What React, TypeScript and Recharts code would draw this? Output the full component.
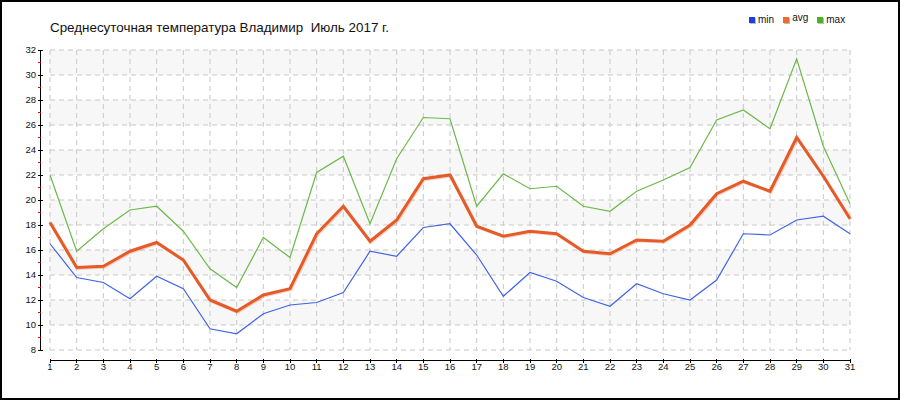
import React from 'react';
import { LineChart, Line, XAxis, YAxis, CartesianGrid } from 'recharts';

const days = [1, 2, 3, 4, 5, 6, 7, 8, 9, 10, 11, 12, 13, 14, 15, 16, 17, 18, 19, 20, 21, 22, 23, 24, 25, 26, 27, 28, 29, 30, 31];
const minTemps = [16.5, 13.8, 13.4, 12.1, 13.9, 12.9, 9.7, 9.3, 10.9, 11.6, 11.8, 12.6, 15.9, 15.5, 17.8, 18.1, 15.6, 12.3, 14.2, 13.5, 12.2, 11.5, 13.3, 12.5, 12.0, 13.6, 17.3, 17.2, 18.4, 18.7, 17.3];
const avgTemps = [18.2, 14.6, 14.7, 15.9, 16.6, 15.2, 12.0, 11.1, 12.4, 12.9, 17.3, 19.5, 16.7, 18.4, 21.7, 22.0, 17.9, 17.1, 17.5, 17.3, 15.9, 15.7, 16.8, 16.7, 18.0, 20.5, 21.5, 20.7, 25.0, 21.9, 18.5];
const maxTemps = [22.0, 15.9, 17.7, 19.2, 19.5, 17.5, 14.5, 13.0, 17.0, 15.4, 22.2, 23.5, 18.1, 23.3, 26.6, 26.5, 19.5, 22.1, 20.9, 21.1, 19.5, 19.1, 20.7, 21.6, 22.6, 26.4, 27.2, 25.7, 31.3, 24.3, 19.7];
const yTicks = [8, 9, 10, 11, 12, 13, 14, 15, 16, 17, 18, 19, 20, 21, 22, 23, 24, 25, 26, 27, 28, 29, 30, 31, 32];
const yGridValues = [8, 10, 12, 14, 16, 18, 20, 22, 24, 26, 28, 30, 32];
const title = 'Среднесуточная температура Владимир  Июль 2017 г.';

const seriesInfo = [
  { key: 'min', name: 'min', color: '#4064e4', legend: '#1d3fe0' },
  { key: 'avg', name: 'avg', color: '#e55b28', legend: '#ee6a30' },
  { key: 'max', name: 'max', color: '#6cb94a', legend: '#4fae2a' },
];

const data = days.map((d, i) => ({ day: d, min: minTemps[i], avg: avgTemps[i], max: maxTemps[i] }));

const tickFont = { fontFamily: '"Liberation Sans", Arial, sans-serif', fontSize: 9.5, fill: '#111' };

const YTick = (props: any) => {
  const { x, y, payload } = props;
  const v = payload.value;
  if (v % 2 !== 0) {
    return <line x1={x - 12.5} x2={x - 9.5} y1={y} y2={y} stroke="#e00000" shapeRendering="crispEdges" />;
  }
  return (
    <g>
      <line x1={x - 12} x2={x - 7} y1={y} y2={y} stroke="#000" shapeRendering="crispEdges" />
      <text x={x - 14} y={y} dy="0.35em" textAnchor="end" {...tickFont}>{v}</text>
    </g>
  );
};

const XTick = (props: any) => {
  const { x, y, payload } = props;
  return (
    <g>
      <line x1={x} x2={x} y1={y + 9} y2={y + 13} stroke="#000" shapeRendering="crispEdges" />
      <text x={x} y={y + 19.5} textAnchor="middle" {...tickFont}>{payload.value}</text>
    </g>
  );
};

const LegendBox = () => (
  <div style={{ position: 'absolute', left: 749, top: 14, display: 'flex', alignItems: 'center', fontFamily: '"Liberation Sans", Arial, sans-serif', fontSize: 10, color: '#111' }}>
    {seriesInfo.map((s) => (
      <div key={s.key} style={{ display: 'flex', alignItems: 'center', marginRight: 9 }}>
        <span style={{ display: 'inline-block', width: 6, height: 6, background: s.legend, boxShadow: '1px 1px 0 #bbb', marginRight: 3 }} />
        <span style={{ position: 'relative', top: s.key === 'avg' ? -2 : 0 }}>{s.name}</span>
      </div>
    ))}
  </div>
);

export default function App() {
  return (
    <div style={{ position: 'absolute', left: 0, top: 0, width: 900, height: 400, background: '#fff' }}>
      <LineChart width={900} height={400} data={data} margin={{ top: 50, right: 50, left: 0, bottom: 10 }}>
        <CartesianGrid
          stroke="#c8c8c8"
          strokeDasharray="5 4"
          horizontalValues={yGridValues}
          horizontalFill={['#f7f7f7', '#ffffff']}
          fillOpacity={1}
        />
        <XAxis
          dataKey="day"
          type="number"
          domain={[1, 31]}
          ticks={days}
          interval={0}
          height={40}
          tickSize={0}
          tickMargin={0}
          tickLine={false}
          axisLine={{ stroke: '#000', transform: 'translate(0,10)', shapeRendering: 'crispEdges' }}
          tick={<XTick />}
        />
        <YAxis
          type="number"
          domain={[8, 32]}
          ticks={yTicks}
          interval={0}
          width={50}
          tickSize={0}
          tickMargin={0}
          tickLine={false}
          axisLine={{ stroke: '#000', transform: 'translate(-10,0)', shapeRendering: 'crispEdges' }}
          tick={<YTick />}
        />
        <Line type="linear" dataKey="max" name="max" stroke={seriesInfo[2].color} strokeWidth={1.2} dot={false} activeDot={false} isAnimationActive={false} />
        <Line type="linear" dataKey="min" name="min" stroke={seriesInfo[0].color} strokeWidth={1.2} dot={false} activeDot={false} isAnimationActive={false} />
        <Line type="linear" dataKey="avg" name="avg" stroke={seriesInfo[1].color} strokeWidth={3} dot={false} activeDot={false} isAnimationActive={false} style={{ filter: 'drop-shadow(1px 1px 0 rgba(229,91,40,0.25))' }} />
      </LineChart>
      <LegendBox />
      <div style={{ position: 'absolute', left: 50, top: 20, fontFamily: '"Liberation Sans", Arial, sans-serif', fontSize: 13.4, color: '#111', whiteSpace: 'pre' }}>{title}</div>
      <div style={{ position: 'absolute', left: 0, top: 0, width: 900, height: 400, border: '2px solid #000', boxSizing: 'border-box', pointerEvents: 'none' }} />
    </div>
  );
}
